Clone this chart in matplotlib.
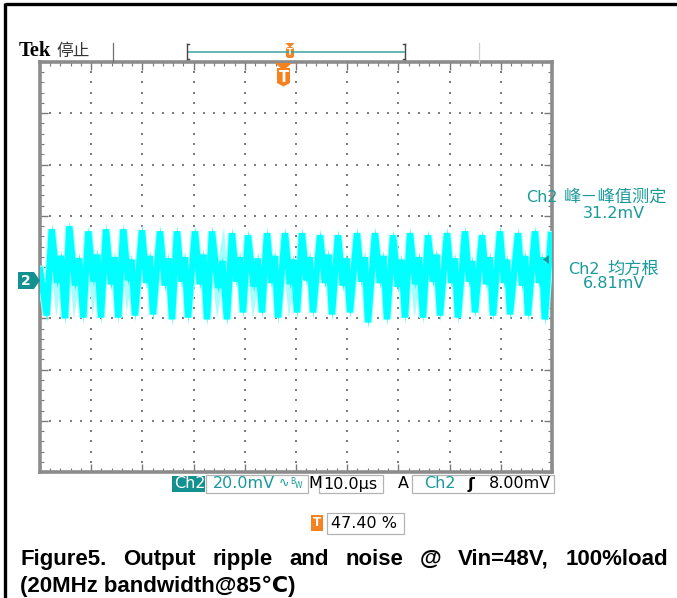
import matplotlib
matplotlib.use("Agg")
import matplotlib.pyplot as plt
from matplotlib.patches import Rectangle, Polygon, FancyBboxPatch
from matplotlib.lines import Line2D
import numpy as np

# ---------------- data ----------------
# time in microseconds (10 us/div), voltage in mV (20 mV/div)
start_t, start_mv = 0.0, 4.0
trough_t = [1.31, 4.88, 8.46, 11.91, 15.29, 18.55, 22.07, 25.78, 28.91, 32.62,
            36.52, 39.65, 43.36, 46.48, 50.20, 53.32, 57.03, 60.55, 64.06, 67.77,
            71.29, 74.80, 78.13, 81.64, 84.96, 88.48, 91.80, 95.31, 98.60]
trough_mv = [-13.7, -14.8, -14.5, -14.5, -14.5, -13.7, -13.3, -15.2, -14.5, -15.2,
             -15.2, -12.5, -12.5, -14.5, -12.5, -12.5, -13.3, -12.5, -16.4, -15.2,
             -14.5, -14.5, -13.7, -14.5, -12.5, -13.7, -13.3, -13.7, -15.2]
peak_t = [2.29, 5.72, 9.43, 12.89, 16.27, 19.92, 23.44, 26.76, 30.27, 33.59,
          37.50, 40.63, 44.34, 47.85, 51.17, 54.69, 58.20, 61.91, 65.43, 68.95,
          72.27, 75.78, 79.49, 83.01, 86.33, 89.84, 93.36, 96.68, 99.80]
peak_mv = [19.9, 21.1, 19.1, 19.9, 19.9, 19.5, 19.1, 19.1, 19.1, 19.1,
           18.4, 17.6, 18.4, 18.4, 18.4, 17.6, 17.6, 18.4, 18.4, 17.6,
           18.4, 17.6, 18.4, 19.1, 17.6, 19.1, 18.4, 19.1, 17.6]
dip_t = [3.33, 6.82, 10.42, 13.85, 17.18, 20.78, 24.38, 27.62, 31.21, 34.76,
         38.36, 41.72, 45.20, 48.79, 52.03, 55.63, 59.14, 62.77, 66.37, 69.89,
         73.28, 76.72, 80.35, 83.79, 87.19, 90.62, 94.14, 97.45]
dip_mv = [-1.0, -2.0, -0.5, -1.5, 0.0, -1.0, -2.0, -0.5, -1.5, -3.0,
          -0.5, -2.5, -1.0, -1.5, 0.0, -1.0, -2.0, -0.5, -1.0, -2.5,
          -1.5, -0.5, -1.0, -0.5, -1.5, -1.0, -2.0, -1.0]
bump_t = [4.10, 7.64, 11.17, 14.57, 17.87, 21.43, 25.08, 28.27, 31.92, 35.64,
          39.01, 42.54, 45.84, 49.50, 52.68, 56.33, 59.85, 63.42, 67.07, 70.59,
          74.04, 77.43, 81.00, 84.38, 87.84, 91.21, 94.73, 98.02]
bump_mv = [9.5, 8.5, 10.0, 9.0, 8.0, 9.5, 8.5, 9.0, 10.0, 7.5,
           9.0, 8.5, 9.5, 8.0, 9.0, 10.0, 8.5, 9.0, 9.5, 8.0,
           9.0, 10.0, 8.5, 7.5, 9.0, 8.0, 9.5, 9.0]
noise_band_mv = 2.0            # half-height of the noisy trace band

ch2_position_div = -0.26       # ground marker position (divisions from centre)
volts_per_div_mv = 20.0
time_per_div_us = 10.0
trigger_level_mv = 8.0

header_label = "Tek"
header_state = "停止"
meas1_ch, meas1_name, meas1_value = "Ch2", "峰－峰值测定", "31.2mV"
meas2_ch, meas2_name, meas2_value = "Ch2", "均方根", "6.81mV"
scale_text = "20.0mV"
time_text = "10.0µs"
trig_text = "8.00mV"
trig_pos_text = "47.40 %"
caption1_words = ["Figure5.", "Output", "ripple", "and", "noise", "@", "Vin=48V,", "100%load"]
caption2 = "(20MHz bandwidth@85℃)"

# ---------------- figure ----------------
W, H = 677, 598
fig = plt.figure(figsize=(W / 100, H / 100), dpi=100)
fig.patch.set_facecolor("white")

def X(px):
    return px / W

def Y(py):
    return 1 - py / H

TEAL = "#1a9a9a"
ORANGE = "#f5821f"
GRAY = "#8c8c8c"

def fline(xs, ys, **kw):
    fig.add_artist(Line2D([X(v) for v in xs], [Y(v) for v in ys],
                          transform=fig.transFigure, **kw))

def frect(x0, y0, x1, y1, **kw):
    r = Rectangle((X(x0), Y(y1)), (x1 - x0) / W, (y1 - y0) / H,
                  transform=fig.transFigure, **kw)
    fig.add_artist(r)

def fpoly(pts, **kw):
    p = Polygon([(X(a), Y(b)) for a, b in pts], closed=True,
                transform=fig.transFigure, **kw)
    fig.add_artist(p)

def ftext(x, y, s, **kw):
    return fig.text(X(x), Y(y), s, **kw)

# outer frame (left and top)
fline([5, 677], [4, 4], color="black", lw=2.4, solid_capstyle="butt")
fline([5, 5], [3, 598], color="black", lw=2.4, solid_capstyle="butt")

# ---------------- graticule axes ----------------
ax = fig.add_axes([X(40), Y(472), 512 / W, 410 / H])
centre_mv = -ch2_position_div * volts_per_div_mv
ax.set_xlim(0, 10 * time_per_div_us)
ax.set_ylim(centre_mv - 4 * volts_per_div_mv, centre_mv + 4 * volts_per_div_mv)
for s in ax.spines.values():
    s.set_color(GRAY)
    s.set_linewidth(2.6)
ax.set_xticks(np.arange(0, 101, time_per_div_us))
ax.set_xticks(np.arange(0, 101, time_per_div_us / 5), minor=True)
ax.set_yticks(centre_mv + volts_per_div_mv * np.arange(-4, 5))
ax.set_yticks(centre_mv + volts_per_div_mv / 5 * np.arange(-20, 21), minor=True)
ax.tick_params(which="both", direction="in", top=True, right=True,
               labelbottom=False, labelleft=False, color="#7a7a7a")
ax.tick_params(which="major", length=5.5, width=1.0)
ax.tick_params(which="minor", length=3.0, width=0.8)

# dotted grid
gx, gy = [], []
for k in range(-3, 4):
    yk = centre_mv + k * volts_per_div_mv
    for xv in np.arange(0, 100.01, time_per_div_us / 5):
        gx.append(xv); gy.append(yk)
for j in range(1, 10):
    xj = j * time_per_div_us
    for yv in centre_mv + volts_per_div_mv / 5 * np.arange(-20, 21):
        gx.append(xj); gy.append(yv)
ax.scatter(gx, gy, s=1.6, marker="s", color="#7d7d7d", linewidths=0, zorder=2)

# waveform (noisy band: vertical spread around the ripple vertices)
wt = [start_t]
wv = [start_mv]
for i in range(len(peak_t)):
    wt += [trough_t[i], peak_t[i]]
    wv += [trough_mv[i], peak_mv[i]]
    if i < len(dip_t):
        wt += [dip_t[i], bump_t[i]]
        wv += [dip_mv[i], bump_mv[i]]
wt = np.array(wt)
wv = np.array(wv)
ax.fill_between(wt, wv - noise_band_mv * 1.35, wv + noise_band_mv * 1.35,
                color="#a6ffff", lw=0, zorder=3)
ax.plot(wt, wv, color="#a6ffff", lw=6.0, solid_joinstyle="miter", zorder=3)
ax.fill_between(wt, wv - noise_band_mv, wv + noise_band_mv,
                color="#00ffff", lw=0, zorder=4)
ax.plot(wt, wv, color="#00ffff", lw=4.5, solid_joinstyle="miter", zorder=4)

# trigger level marker (right edge)
ty = 280 - trigger_level_mv * 2.56
fpoly([(543, ty), (549, ty - 4.5), (549, ty + 4.5)], color=TEAL, lw=0)

# ground marker "2"
fpoly([(18, 272), (34, 272), (40, 280.5), (34, 289), (18, 289)], color="#139090", lw=0)
ftext(26, 281, "2", color="white", fontsize=10, fontweight="bold",
      ha="center", va="center", family="DejaVu Sans")

# ---------------- header ----------------
ftext(19, 51, header_label, fontsize=14.8, fontweight="bold",
      family="Liberation Serif", ha="left", va="center", color="black")
ftext(56, 51, header_state, fontsize=12, family="Noto Sans CJK SC",
      ha="left", va="center", color="#333333")
fline([113, 113], [43, 62], color="#707070", lw=0.9)
fline([479, 479], [43, 62], color="#cfcfcf", lw=0.9)
# record view bracket
fline([188, 404], [51.5, 51.5], color="#3aa0a0", lw=1.1)
fline([187, 187], [44, 59], color="#444444", lw=1.0)
fline([187, 189], [44, 44], color="#444444", lw=1.0)
fline([187, 189], [59, 59], color="#444444", lw=1.0)
fline([405, 405], [44, 59], color="#444444", lw=1.0)
fline([403, 405], [44, 44], color="#444444", lw=1.0)
fline([403, 405], [59, 59], color="#444444", lw=1.0)
# small trigger-position marker on bracket
fpoly([(285.5, 43), (294.5, 43), (290, 47.5)], color=ORANGE, lw=0)
fig.add_artist(FancyBboxPatch((X(286), Y(58)), 8 / W, 11 / H,
                              boxstyle="round,pad=0,rounding_size=0.004",
                              transform=fig.transFigure, color=ORANGE, lw=0))
ftext(290, 52.5, "T", color="white", fontsize=6, fontweight="bold",
      ha="center", va="center", family="DejaVu Sans")
# large trigger position marker
fpoly([(275, 63), (292, 63), (283.5, 70.5)], color=ORANGE, lw=0)
fpoly([(277, 68), (290, 68), (290, 83), (283.5, 86.5), (277, 83)], color=ORANGE, lw=0)
ftext(283.5, 77.5, "T", color="white", fontsize=10.5, fontweight="bold",
      ha="center", va="center", family="DejaVu Sans")

# ---------------- measurements ----------------
ftext(526, 197, meas1_ch, fontsize=11.5, color=TEAL, family="DejaVu Sans",
      ha="left", va="center")
ftext(564, 197, meas1_name, fontsize=12.4, color=TEAL, family="Noto Sans CJK SC",
      ha="left", va="center")
ftext(583, 213, meas1_value, fontsize=11.5, color=TEAL, family="DejaVu Sans",
      ha="left", va="center")
ftext(568, 269, meas2_ch, fontsize=11.5, color=TEAL, family="DejaVu Sans",
      ha="left", va="center")
ftext(607, 269, meas2_name, fontsize=12.4, color=TEAL, family="Noto Sans CJK SC",
      ha="left", va="center")
ftext(583, 284, meas2_value, fontsize=11.5, color=TEAL, family="DejaVu Sans",
      ha="left", va="center")

# ---------------- status bar ----------------
SB = 484
fs_sb = 11.5
frect(172, 476, 205, 492, color="#139090", lw=0)
ftext(174, SB, "Ch2", color="white", fontsize=fs_sb, family="DejaVu Sans",
      ha="left", va="center")
frect(206, 475, 308, 493, fill=False, edgecolor="#b4b4b4", lw=0.9)
ftext(213, SB, scale_text, color=TEAL, fontsize=fs_sb, family="DejaVu Sans",
      ha="left", va="center")
ftext(279, SB - 1, "∿", color=TEAL, fontsize=9, family="DejaVu Sans",
      ha="left", va="center")
ftext(290, SB - 3, "B", color=TEAL, fontsize=5.5, family="DejaVu Sans",
      ha="left", va="center")
ftext(295, SB + 2, "W", color=TEAL, fontsize=5.5, family="DejaVu Sans",
      ha="left", va="center")
ftext(308, SB, "M", color="black", fontsize=fs_sb, family="DejaVu Sans",
      ha="left", va="center")
frect(319, 475, 383, 493, fill=False, edgecolor="#b4b4b4", lw=0.9)
ftext(323, SB, time_text, color="black", fontsize=fs_sb, family="DejaVu Sans",
      ha="left", va="center")
ftext(398, SB, "A", color="black", fontsize=fs_sb, family="DejaVu Sans",
      ha="left", va="center")
frect(412, 475, 554, 493, fill=False, edgecolor="#b4b4b4", lw=0.9)
ftext(424, SB, "Ch2", color=TEAL, fontsize=fs_sb, family="DejaVu Sans",
      ha="left", va="center")
ftext(468, SB, "ʃ", color="black", fontsize=fs_sb, fontweight="bold",
      family="DejaVu Sans", ha="left", va="center")
ftext(489, SB, trig_text, color="black", fontsize=fs_sb, family="DejaVu Sans",
      ha="left", va="center")

# trigger position readout
frect(311, 515, 323, 531, color=ORANGE, lw=0)
ftext(317, 523, "T", color="white", fontsize=8.5, fontweight="bold",
      family="DejaVu Sans", ha="center", va="center")
frect(327, 513, 404, 534, fill=False, edgecolor="#b4b4b4", lw=0.9)
ftext(331, 523.5, trig_pos_text, color="black", fontsize=fs_sb,
      family="DejaVu Sans", ha="left", va="center")

# ---------------- caption (justified) ----------------
cap_font = dict(fontsize=16, fontweight="bold", family=["Liberation Sans", "DejaVu Sans"],
                color="black", va="baseline", ha="left")
renderer = fig.canvas.get_renderer()
objs = [ftext(0, 565, w, **cap_font) for w in caption1_words]
widths = [o.get_window_extent(renderer).width for o in objs]
left, right = 20, 668
gap = (right - left - sum(widths)) / (len(objs) - 1)
xpos = left
for o, wdt in zip(objs, widths):
    o.set_x(X(xpos))
    xpos += wdt + gap
ftext(20, 592, caption2, **cap_font)

fig.savefig("out.png", dpi=100, facecolor="white")
